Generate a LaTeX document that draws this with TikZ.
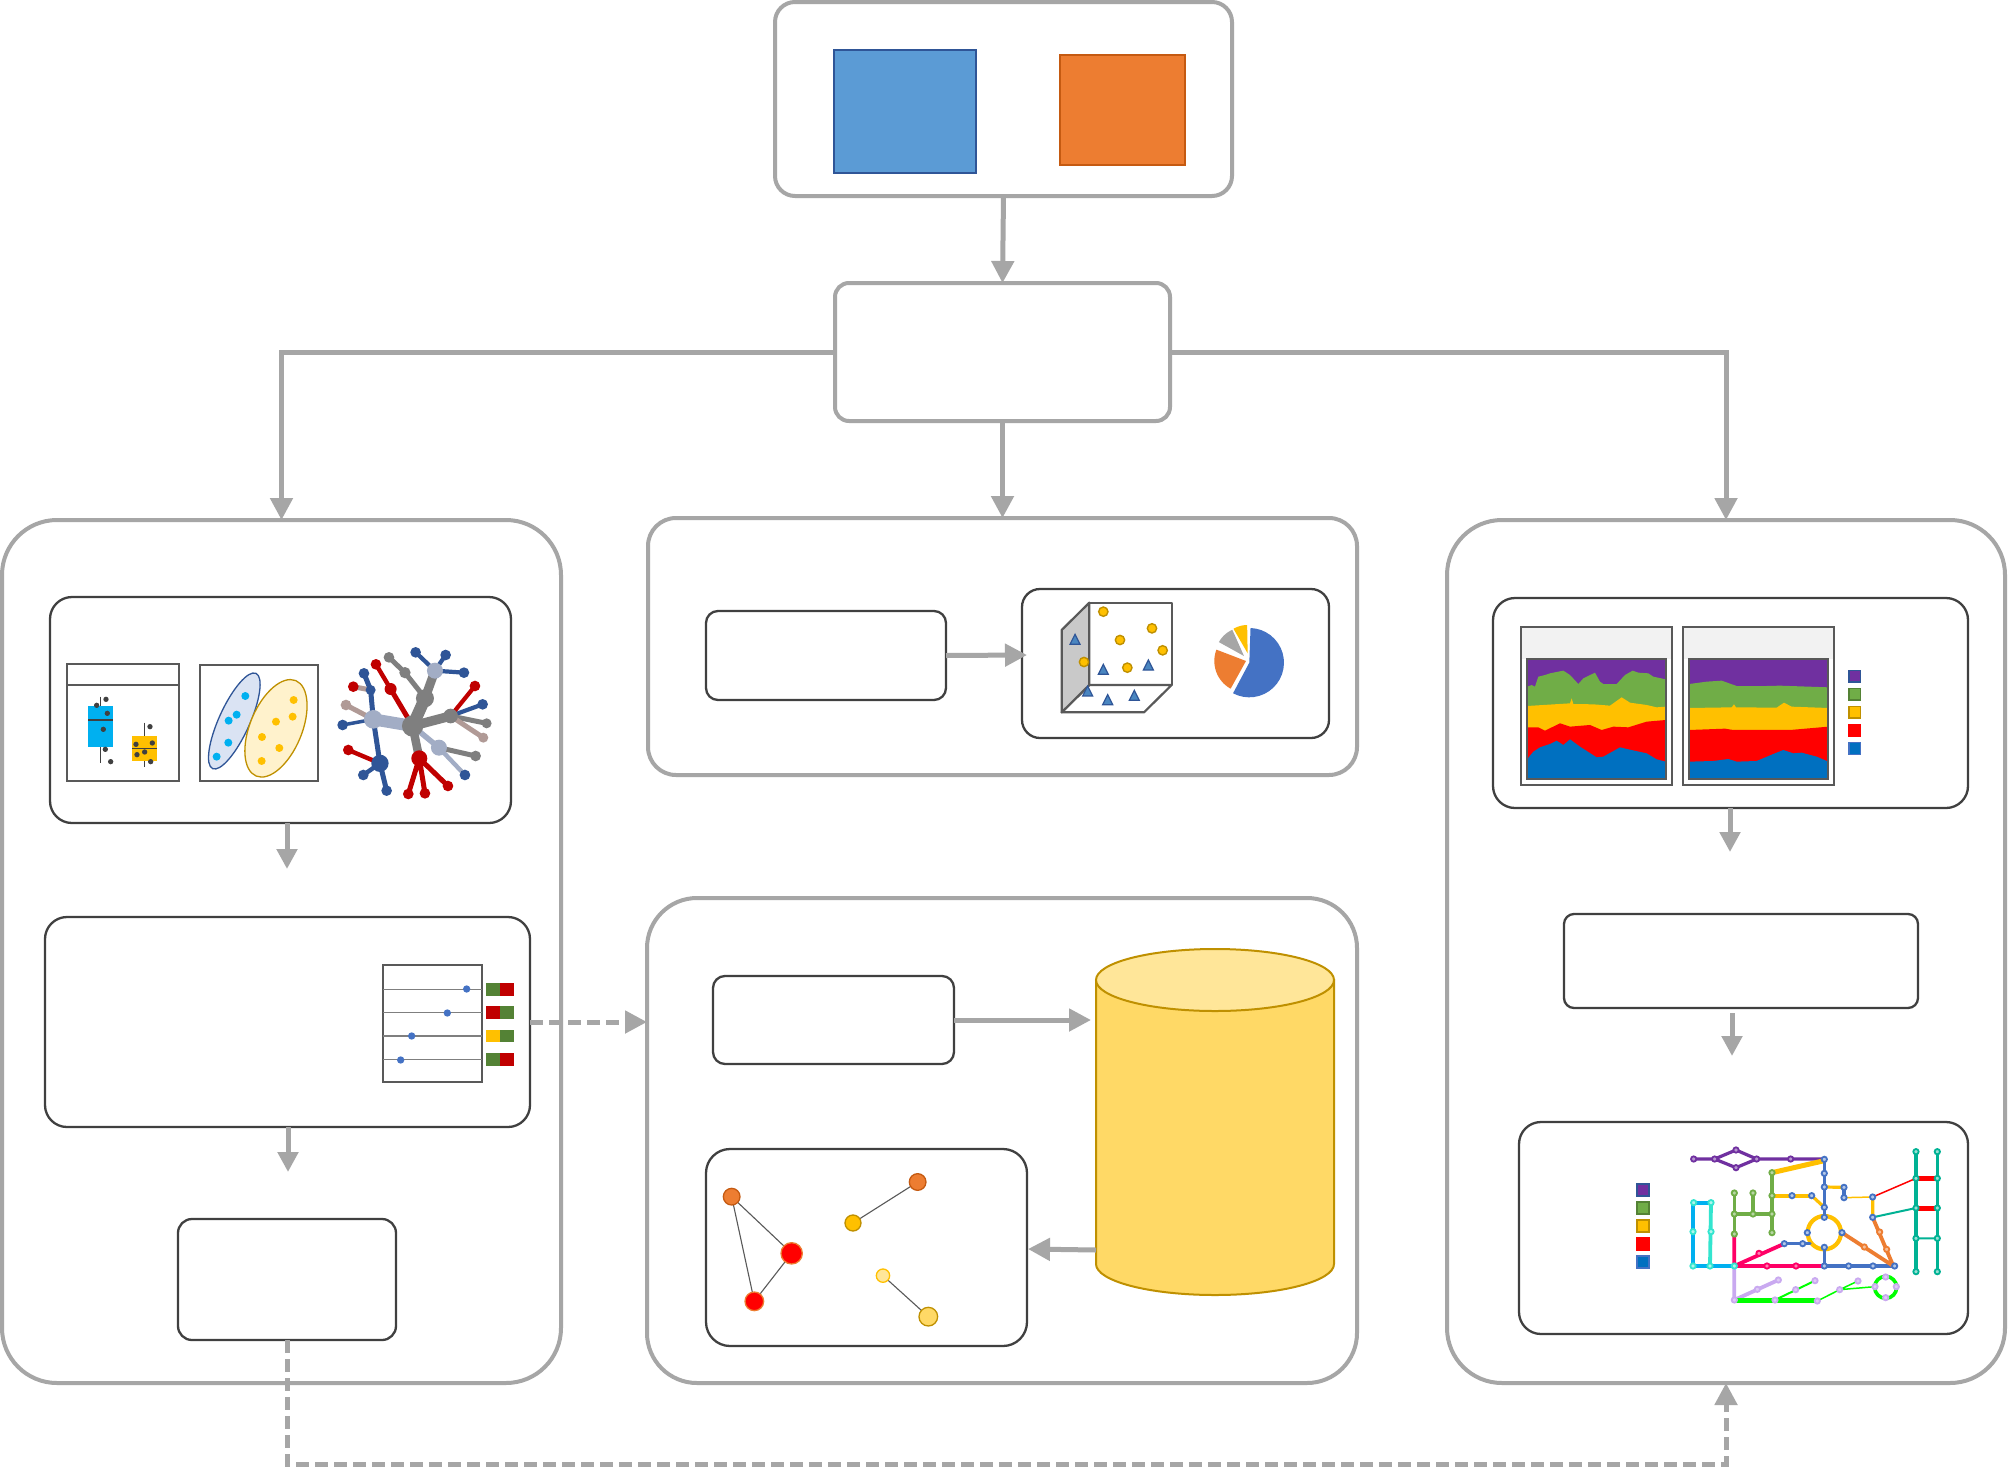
\documentclass[tikz,border=0pt]{standalone}
\usetikzlibrary{arrows.meta}
\definecolor{flow}{HTML}{A6A6A6}
\definecolor{ink}{HTML}{404040}
\definecolor{frm}{HTML}{595959}
\definecolor{tblue}{HTML}{2F5597}
\definecolor{tred}{HTML}{C00000}
\definecolor{tgray}{HTML}{7F7F7F}
\definecolor{ttaupe}{HTML}{B09A96}
\definecolor{tpale}{HTML}{A2ADC5}
\definecolor{lpur}{HTML}{7030A0}
\definecolor{lgrn}{HTML}{70AD47}
\definecolor{dgrn}{HTML}{548235}
\definecolor{lyel}{HTML}{FFC000}
\definecolor{dyel}{HTML}{BF9000}
\definecolor{lred}{HTML}{FF0000}
\definecolor{lblu}{HTML}{0070C0}
\definecolor{mblu}{HTML}{4472C4}
\definecolor{sblu}{HTML}{5B9BD5}
\definecolor{mora}{HTML}{ED7D31}
\definecolor{dora}{HTML}{C55A11}
\definecolor{mpnk}{HTML}{FF0066}
\definecolor{mcya}{HTML}{00B0F0}
\definecolor{mtur}{HTML}{33E5CF}
\definecolor{mlil}{HTML}{C9A9F0}
\definecolor{mgrn}{HTML}{00FF00}
\definecolor{mtea}{HTML}{00B294}
\definecolor{cylbody}{HTML}{FFD966}
\definecolor{cyltop}{HTML}{FFE699}
\definecolor{ellb}{HTML}{DAE3F3}
\definecolor{elly}{HTML}{FFF2CC}
\definecolor{tri}{HTML}{4A86C0}
\tikzset{
  outerbox/.style={draw=flow,line width=4pt,fill=white,rectangle,inner sep=0pt,outer sep=0pt},
  innerbox/.style={draw=ink,line width=2.3pt,fill=white,rectangle,inner sep=0pt,outer sep=0pt},
  flowline/.style={draw=flow,line width=5pt,-{Triangle[length=22pt,width=22pt]}},
  flowsmall/.style={draw=flow,line width=5pt,-{Triangle[length=20pt,width=20pt]}},
  flowdash/.style={draw=flow,line width=5pt,dash pattern=on 13pt off 6pt,-{Triangle[length=22pt,width=22pt]}},
  frame/.style={draw=frm,line width=2.2pt},
}
% name, x1,y1,x2,y2, style, radius
\newcommand{\bx}[7]{\pgfmathsetmacro{\wA}{#4-#2}\pgfmathsetmacro{\hA}{#5-#3}
  \node[#6,rounded corners=#7pt,minimum width=\wA pt,minimum height=\hA pt] (#1) at ({(#2+#4)/2},{(#3+#5)/2}) {};}
\newcommand{\stations}[3]{\foreach \p in {#3}{\filldraw[fill=#1,draw=#2,line width=1.8pt] \p circle[radius=8];}}
\newcommand{\tnode}[4]{\fill[#1] (#2,#3) circle[radius={#4+2}];}
\newcommand{\piewedge}[6]{\fill[#6] (#1,#2) -- plot[domain=#4:#5,samples=24] ({#1+#3*cos(\x)},{#2-#3*sin(\x)}) -- cycle;}
\begin{document}
\begin{tikzpicture}[x=1pt,y=-1pt,line cap=butt]
\useasboundingbox[fill=white] (0,0) rectangle (2008,1467);

% outer boxes
\bx{top}{775}{2}{1232}{196}{outerbox}{20}
\bx{mid}{835}{283}{1170}{421}{outerbox}{14}
\bx{lbig}{2}{520}{561}{1383}{outerbox}{55}
\bx{ctop}{648}{518}{1357}{775}{outerbox}{28}
\bx{cbot}{647}{898}{1357}{1383}{outerbox}{50}
\bx{rbig}{1447}{520}{2005}{1383}{outerbox}{55}

% top box content
\bx{bluesq}{834}{50}{976}{173}{draw=tblue,line width=1.8pt,fill=sblu,rectangle,inner sep=0pt}{0}
\bx{orsq}{1060}{55}{1185}{165}{draw=dora,line width=1.8pt,fill=mora,rectangle,inner sep=0pt}{0}

% inner boxes
\bx{la}{50}{597}{511}{823}{innerbox}{22}
\bx{lb}{45}{917}{530}{1127}{innerbox}{22}
\bx{lc}{178}{1219}{396}{1340}{innerbox}{14}
\bx{ca}{706}{611}{946}{700}{innerbox}{12}
\bx{cb}{1022}{589}{1329}{738}{innerbox}{18}
\bx{cc}{713}{976}{954}{1064}{innerbox}{12}
\bx{cd}{706}{1149}{1027}{1346}{innerbox}{24}
\bx{ra}{1493}{598}{1968}{808}{innerbox}{22}
\bx{rb}{1564}{914}{1918}{1008}{innerbox}{10}
\bx{rc}{1519}{1122}{1968}{1334}{innerbox}{22}

% cylinder
\filldraw[fill=cylbody,draw=dyel,line width=2pt]
  (1096,980) -- (1096,1264) .. controls (1096,1281) and (1149,1295) .. (1215,1295) .. controls (1281,1295) and (1334,1281) .. (1334,1264) -- (1334,980) -- cycle;
\filldraw[fill=cyltop,draw=dyel,line width=2pt] (1215,980) ellipse[x radius=119,y radius=31];
\node[inner sep=0pt,outer sep=0pt,minimum width=238pt,minimum height=315pt] (cyl) at (1215,1122) {};
\coordinate (cylin) at (1091,1020);
\coordinate (cylout) at (1096,1250);
\coordinate (cdin) at (1028,1249);

% connectors
\coordinate (dashy) at (0,1022);
\coordinate (bot) at (0,1464);
\coordinate (lafree) at (287,869);
\coordinate (lbfree) at (288,1172);
\coordinate (rafree) at (1730,852);
\coordinate (rbsrc) at (1732,1013);
\coordinate (rbfree) at (1732,1056);
\coordinate (lasrc) at (287,823);
\coordinate (lbsrc) at (288,1127);
\coordinate (rasrc) at (1730,808);
\coordinate (cbin) at (1027,655);
\draw[flowline] (top.south) -- (mid.north);
\draw[flowline] (mid.west) -| (lbig.north);
\draw[flowline] (mid.east) -| (rbig.north);
\draw[flowline] (mid.south) -- (ctop.north);
\draw[flowsmall] (lasrc) -- (lafree);
\draw[flowsmall] (lbsrc) -- (lbfree);
\draw[flowsmall] (rasrc) -- (rafree);
\draw[flowsmall] (rbsrc) -- (rbfree);
\draw[flowline] (ca.east) -- (cbin);
\draw[flowline] (cc.east) -- (cylin);
\draw[flowline] (cylout) -- (cdin);
\draw[flowdash] (lb.east |- dashy) -- (cbot.west |- dashy);
\draw[flowdash] (lc.south) -- (lc.south |- bot) -- (rbig.south |- bot) -- (rbig.south);

% boxplots, clusters, tree
\begin{scope}[shift={(40,620)},x=0.3333pt,y=-0.3333pt]
 \filldraw[fill=white,frame] (80,132) rectangle (418,484);
 \draw[frame] (80,195) -- (418,195);
 \draw[ink,line width=1.4pt] (181,230) -- (181,430) (313,308) -- (313,440);
 \fill[mcya] (145,258) rectangle (218,380);
 \fill[lyel] (277,348) rectangle (350,423);
 \draw[ink,line width=1.4pt] (145,300) -- (218,300) (277,385) -- (350,385);
 \foreach \p in {(198,238),(170,256),(202,280),(190,328),(196,388),(212,425),(330,320),(288,373),(337,369),(314,396),(291,404),(332,425)}{\fill[ink] \p circle[radius=8];}
 \filldraw[fill=white,frame] (480,134) rectangle (833,484);
 \filldraw[fill=ellb,draw=tblue,line width=1.3pt,rotate around={65.5:(583,303)}] (583,303) ellipse[x radius=157,y radius=46];
 \filldraw[fill=elly,draw=dyel,line width=1.3pt,rotate around={67.5:(708,325)}] (708,325) ellipse[x radius=155,y radius=78];
 \foreach \p in {(616,228),(590,284),(566,302),(565,368),(530,410)}{\fill[mcya] \p circle[radius=12];}
 \foreach \p in {(761,240),(758,290),(708,305),(666,351),(718,384),(665,423)}{\fill[lyel] \p circle[radius=12];}
 % tree
 \begin{scope}[line cap=round]
 \draw[tgray,line width=5pt] (1140,215) -- (1095,158) -- (1047,112);
 \draw[tred,line width=5pt] (1118,318) -- (1052,207);
 \draw[tred,line width=4.4pt] (1052,207) -- (1008,133);
 \draw[tblue,line width=4.2pt] (1185,152) -- (1127,97) (1185,152) -- (1217,105) (1185,152) -- (1272,158);
 \draw[tblue,line width=4.2pt] (1232,288) -- (1328,253);
 \draw[tred,line width=4.2pt] (1232,288) -- (1305,198);
 \draw[tgray,line width=5pt] (1232,288) -- (1340,310);
 \draw[ttaupe,line width=5pt] (1232,288) -- (1330,353);
 \draw[tgray,line width=12pt] (1118,318) -- (1155,235);
 \draw[tgray,line width=9pt] (1155,235) -- (1185,152);
 \draw[tgray,line width=9.5pt] (1118,318) -- (1232,288);
 \draw[tblue,line width=3.5pt] (1000,298) -- (908,315);
 \draw[ttaupe,line width=5pt] (1000,298) -- (918,255);
 \draw[tblue,line width=5pt] (1000,298) -- (992,210) -- (972,160);
 \draw[tblue,line width=5pt] (1000,298) -- (1020,430) -- (1040,512);
 \draw[ttaupe,line width=5pt] (992,210) -- (940,200);
 \draw[tred,line width=4.4pt] (1020,430) -- (925,390);
 \draw[tblue,line width=4.4pt] (1020,430) -- (970,465);
 \draw[tpale,line width=12pt] (1118,318) -- (1000,298);
 \draw[tgray,line width=8.5pt] (1118,318) -- (1138,415);
 \draw[tred,line width=5pt] (1138,415) -- (1105,522) (1138,415) -- (1155,520) (1138,415) -- (1224,498);
 \draw[tpale,line width=5.5pt] (1118,318) -- (1197,383);
 \draw[tpale,line width=4.4pt] (1197,383) -- (1275,465);
 \draw[tgray,line width=5pt] (1197,383) -- (1307,408);
 \end{scope}
 \tnode{tgray}{1118}{318}{30}\tnode{tgray}{1155}{235}{25}\tnode{tgray}{1232}{288}{20}\tnode{tgray}{1095}{158}{15}\tnode{tgray}{1047}{112}{14}
 \tnode{tpale}{1185}{152}{22}\tnode{tpale}{1000}{298}{26}\tnode{tpale}{1197}{383}{22}
 \tnode{tblue}{1127}{97}{14}\tnode{tblue}{1217}{105}{14}\tnode{tblue}{1272}{158}{14}\tnode{tblue}{1328}{253}{14}
 \tnode{tblue}{908}{315}{14}\tnode{tblue}{992}{210}{13}\tnode{tblue}{972}{160}{14}\tnode{tblue}{1020}{430}{24}\tnode{tblue}{970}{465}{14}\tnode{tblue}{1040}{512}{14}\tnode{tblue}{1275}{465}{14}
 \tnode{tred}{1052}{207}{16}\tnode{tred}{1008}{133}{14}\tnode{tred}{1305}{198}{14}\tnode{tred}{940}{200}{14}\tnode{tred}{925}{390}{14}\tnode{tred}{1138}{415}{22}\tnode{tred}{1105}{522}{14}\tnode{tred}{1155}{520}{14}\tnode{tred}{1224}{498}{14}
 \tnode{tgray}{1340}{310}{13}\tnode{tgray}{1307}{408}{14}
 \tnode{ttaupe}{1330}{353}{13}\tnode{ttaupe}{918}{255}{14}
\end{scope}

% lollipop table
\begin{scope}[shift={(370,950)},x=0.3333pt,y=-0.3333pt]
 \filldraw[fill=white,frame] (40,45) rectangle (337,396);
 \draw[tgray,line width=1.4pt] (40,118) -- (337,118) (40,188) -- (337,188) (40,258) -- (337,258) (40,328) -- (337,328);
 \foreach \p in {(290,117),(232,189),(125,258),(92,330)}{\fill[mblu] \p circle[radius=11];}
 \fill[dgrn] (348,100) rectangle (390,138);\fill[tred] (390,100) rectangle (432,138);
 \fill[tred] (348,169) rectangle (390,208);\fill[dgrn] (390,169) rectangle (432,208);
 \fill[lyel] (348,239) rectangle (390,277);\fill[dgrn] (390,239) rectangle (432,277);
 \fill[dgrn] (348,310) rectangle (390,348);\fill[tred] (390,310) rectangle (432,348);
\end{scope}

% cube and pie
\begin{scope}[shift={(1020,590)},x=0.3333pt,y=-0.3333pt]
 \filldraw[fill=white,frame,line join=round] (208,38) rectangle (455,285);
 \filldraw[fill=white,frame,line join=round] (125,367) -- (208,285) -- (455,285) -- (372,367) -- cycle;
 \filldraw[fill=black!21,frame,line join=round] (125,120) -- (208,38) -- (208,285) -- (125,367) -- cycle;
 \foreach \p in {(250,65),(396,115),(300,150),(428,181),(192,216),(322,233)}{\filldraw[fill=lyel,draw=dyel,line width=1.4pt] \p circle[radius=14];}
 \foreach \a/\b in {165/148,250/238,385/225,203/303,263/329,343/316}{\filldraw[fill=tri,draw=tblue,line width=1.2pt] ({\a-15},{\b+15}) -- (\a,{\b-15}) -- ({\a+15},{\b+15}) -- cycle;}
 \piewedge{688}{218}{104}{-118}{88}{mblu}
 \piewedge{678}{213}{95}{159}{241}{mora}
 \piewedge{672}{198}{86}{114}{151}{black!35}
 \piewedge{683}{190}{85}{91}{120}{lyel}
\end{scope}

% stacked areas
\begin{scope}[shift={(1500,610)},x=0.3333pt,y=-0.3333pt]
 \filldraw[fill=white,draw=none] (62,52) rectangle (517,525);
 \fill[black!5] (62,52) rectangle (517,146);
 \draw[frame] (62,52) rectangle (517,525);
 \fill[black!5] (549,50) rectangle (1003,146);
 \draw[frame] (549,50) rectangle (1003,525);
 \fill[lpur] (82,146) rectangle (497,508);
 \fill[lgrn] (82,508) -- plot coordinates {(82,230)(95,225)(105,230)(115,200)(135,195)(150,190)(190,182)(210,195)(235,222)(250,205)(285,188)(300,215)(310,222)(350,222)(375,195)(398,182)(415,188)(445,190)(460,200)(497,208)} -- (497,508) -- cycle;
 \fill[lyel] (82,508) -- plot coordinates {(82,288)(130,285)(210,280)(215,265)(220,282)(280,283)(330,287)(365,262)(390,278)(440,285)(470,292)(497,290)} -- (497,508) -- cycle;
 \fill[lred] (82,508) -- plot coordinates {(82,352)(115,352)(135,362)(180,340)(210,350)(270,345)(305,360)(340,350)(385,352)(440,335)(497,330)} -- (497,508) -- cycle;
 \fill[lblu] (82,508) -- plot coordinates {(82,447)(100,425)(120,412)(150,402)(170,392)(190,405)(210,388)(240,410)(290,442)(310,440)(360,412)(385,418)(440,430)(470,448)(497,455)} -- (497,508) -- cycle;
 \draw[frame] (82,146) rectangle (497,508);
 \fill[lpur] (568,146) rectangle (985,508);
 \fill[lgrn] (568,508) -- plot coordinates {(568,222)(620,215)(665,212)(710,228)(800,228)(840,227)(985,232)} -- (985,508) -- cycle;
 \fill[lyel] (568,508) -- plot coordinates {(568,294)(695,292)(702,283)(708,292)(830,293)(852,278)(875,290)(985,294)} -- (985,508) -- cycle;
 \fill[lred] (568,508) -- plot coordinates {(568,360)(675,356)(700,360)(870,360)(985,350)} -- (985,508) -- cycle;
 \fill[lblu] (568,508) -- plot coordinates {(568,455)(640,453)(685,447)(710,455)(770,453)(820,432)(850,420)(880,430)(905,428)(950,440)(985,455)} -- (985,508) -- cycle;
 \draw[frame] (568,146) rectangle (985,508);
 \filldraw[fill=lpur,draw=tblue,line width=1.3pt] (1047,182) rectangle (1081,216);
 \filldraw[fill=lgrn,draw=dgrn,line width=1.3pt] (1047,236) rectangle (1081,270);
 \filldraw[fill=lyel,draw=dyel,line width=1.3pt] (1047,290) rectangle (1081,324);
 \filldraw[fill=lred,draw=lred,line width=1.3pt] (1047,344) rectangle (1081,380);
 \filldraw[fill=lblu,draw=mblu,line width=1.3pt] (1047,398) rectangle (1081,434);
\end{scope}

% metro map
\begin{scope}[shift={(1620,1130)},x=0.3333pt,y=-0.3333pt]
 \filldraw[fill=lpur,draw=tblue,line width=1.3pt] (51,162) rectangle (87,198);
 \filldraw[fill=lgrn,draw=dgrn,line width=1.3pt] (51,216) rectangle (87,252);
 \filldraw[fill=lyel,draw=dyel,line width=1.3pt] (51,270) rectangle (87,306);
 \filldraw[fill=lred,draw=lred,line width=1.3pt] (51,324) rectangle (87,360);
 \filldraw[fill=lblu,draw=mblu,line width=1.3pt] (51,378) rectangle (87,414);
 \begin{scope}[line cap=round,line join=round]
 \draw[lpur,line width=3.2pt] (221,87) -- (284,87) -- (348,60) -- (410,87) -- (348,113) -- (284,87) (410,87) -- (613,87);
 \draw[lyel,line width=5pt] (456,128) -- (613,92);
 \draw[lyel,line width=3.8pt] (456,197) -- (575,197);
 \draw[lyel,line width=3.2pt] (575,197) -- (613,232) (613,171) -- (672,172) (758,201) -- (758,262);
 \draw[lyel,line width=1.5pt] (672,203) -- (758,201);
 \draw[lyel,line width=4.2pt] (613,308) circle[radius=50];
 \draw[mblu,line width=3.2pt] (613,88) -- (613,262) (613,352) -- (613,408) (613,408) -- (824,408) (493,341) -- (570,341) (672,172) -- (672,203);
 \draw[lgrn,line width=3.2pt] (456,128) -- (456,308) (343,189) -- (343,312) (399,189) -- (399,252) (343,252) -- (456,252);
 \draw[mpnk,line width=3.8pt] (343,312) -- (343,408) -- (493,341);
 \draw[mpnk,line width=3.2pt] (343,408) -- (613,408);
 \draw[mcya,line width=3.8pt] (273,218) -- (220,218) -- (220,408);
 \draw[mcya,line width=4.5pt] (220,408) -- (343,408);
 \draw[mtur,line width=3.8pt] (273,218) -- (270,408);
 \draw[mlil,line width=3.8pt] (343,408) -- (343,510) -- (475,450);
 \draw[mgrn,line width=5pt] (343,513) -- (592,513);
 \draw[mgrn,line width=2pt] (465,510) -- (585,452);
 \draw[mgrn,line width=1.5pt] (592,513) -- (659,479) -- (714,453) (659,479) -- (765,470);
 \draw[mgrn,line width=3.6pt] (797,472) circle[radius=33];
 \draw[mora,line width=3.8pt] (666,308) -- (820,408) -- (758,262);
 \draw[lred,line width=1.5pt] (758,201) -- (888,145);
 \draw[lred,line width=5.4pt,line cap=butt] (888,145) -- (952,145);
 \draw[lred,line width=5pt,line cap=butt] (888,234) -- (952,234);
 \draw[mtea,line width=3.8pt] (888,65) -- (888,425);
 \draw[mtea,line width=3.2pt] (952,65) -- (952,425);
 \draw[mtea,line width=2pt] (888,325) -- (952,325) (758,262) -- (888,234);
 \end{scope}
 \stations{lpur!50!white}{lpur}{(221,87),(284,87),(348,60),(410,87),(348,113),(512,87)}
 \stations{mblu!40!white}{mblu}{(613,88),(613,130),(613,171),(613,232),(613,262),(613,352),(613,408),(686,408),(759,408),(824,408),(493,341),(548,341),(672,172),(672,203),(516,197),(575,197),(562,308),(666,308),(758,201),(758,262)}
 \stations{lgrn!50!white}{lgrn}{(456,128),(456,197),(456,252),(456,308),(343,189),(343,252),(343,312),(399,189),(399,252)}
 \stations{mpnk!50!white}{mpnk}{(441,408),(528,408),(417,370)}
 \stations{mtur!40!white}{mtur}{(221,218),(273,218),(219,305),(273,305),(219,408),(270,408),(343,408)}
 \stations{mlil!60!white}{mlil}{(412,478),(475,450),(343,510),(465,510),(592,513),(527,479),(585,452),(659,479),(714,453),(765,470),(829,470),(797,441),(797,503)}
 \stations{mora!50!white}{mora}{(733,351),(779,306),(800,358)}
 \stations{mtea!40!white}{mtea}{(888,65),(888,145),(888,234),(888,325),(888,425),(952,65),(952,145),(952,234),(952,325),(952,425)}
\end{scope}

% network
\begin{scope}[shift={(700,1140)},x=0.3333pt,y=-0.3333pt]
 \coordinate (n1) at (95,170);\coordinate (n2) at (275,340);\coordinate (n3) at (163,484);
 \coordinate (n4) at (459,249);\coordinate (n5) at (653,126);\coordinate (n6) at (549,407);\coordinate (n7) at (685,530);
 \draw[frm,line width=1.1pt] (n1) -- (n2) -- (n3) -- (n1) (n4) -- (n5) (n6) -- (n7);
 \filldraw[fill=mora,draw=dora,line width=1.3pt] (n1) circle[radius=25];
 \filldraw[fill=lred,draw=mora,line width=1.3pt] (n2) circle[radius=32];
 \filldraw[fill=lred,draw=mora,line width=1.3pt] (n3) circle[radius=28];
 \filldraw[fill=lyel,draw=dyel,line width=1.3pt] (n4) circle[radius=24];
 \filldraw[fill=mora,draw=dora,line width=1.3pt] (n5) circle[radius=25];
 \filldraw[fill=cyltop,draw=lyel,line width=1.3pt] (n6) circle[radius=20];
 \filldraw[fill=cylbody,draw=dyel,line width=1.3pt] (n7) circle[radius=28];
\end{scope}
\end{tikzpicture}
\end{document}
